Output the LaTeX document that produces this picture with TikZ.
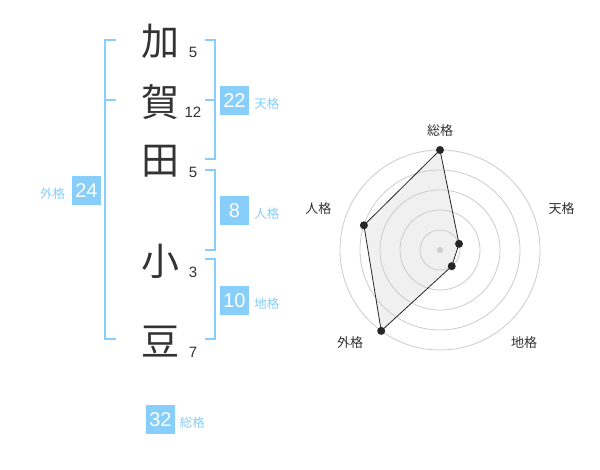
\documentclass[tikz,border=0pt]{standalone}
\usepackage{fontspec}
\setmainfont{Liberation Sans}
\newfontfamily\jpfont{Noto Sans CJK JP}
\usetikzlibrary{positioning}
\definecolor{skyline}{HTML}{87CEFA}
\definecolor{inkgray}{HTML}{333333}
\tikzstyle{kanji} = [text=inkgray, font=\jpfont\fontsize{38}{38}\selectfont, inner sep=0pt]
\tikzstyle{strokes} = [text=inkgray, font=\fontsize{15}{15}\selectfont, inner sep=0pt]
\tikzstyle{kakubox} = [fill=skyline, text=white, minimum width=29pt, minimum height=29pt,
    inner sep=0pt, font=\fontsize{20}{20}\selectfont]
\tikzstyle{kakulabel} = [text=skyline, font=\jpfont\fontsize{12.5}{12.5}\selectfont, inner sep=0pt]
\tikzstyle{bracket} = [draw=skyline, line width=2pt]
\tikzstyle{ring} = [draw=black!20, line width=0.8pt]
\tikzstyle{axislabel} = [text=inkgray, font=\jpfont\fontsize{13}{13}\selectfont, inner sep=0pt]
\tikzstyle{vertex} = [circle, fill=black!85, inner sep=0pt, minimum size=8pt]

\begin{document}
\begin{tikzpicture}[x=1pt, y=-1pt]
                \fill[white] (0,0) rectangle (600,470);
                \useasboundingbox (0,0) rectangle (600,470);
                % name column
                \node[kanji] (ka)  at (160,41.7)  {加};
                \node[kanji] (ga)  at (160,101.7) {賀};
                \node[kanji] (ta)  at (160,161.7) {田};
                \node[kanji] (sho) at (160,261.5) {小};
                \node[kanji] (mame) at (160,341.5) {豆};
                \node[strokes] (n1) at ([shift={(33,11)}]ka.center)   {5};
                \node[strokes] (n2) at ([shift={(33,11)}]ga.center)   {12};
                \node[strokes] (n3) at ([shift={(33,11)}]ta.center)   {5};
                \node[strokes] (n4) at ([shift={(33,11)}]sho.center)  {3};
                \node[strokes] (n5) at ([shift={(33,11)}]mame.center) {7};
                % brackets
                \draw[bracket] (116,40) -- (105,40) -- (105,339.3) -- (116,339.3);
                \draw[bracket] (105,100) -- (116,100);
                \draw[bracket] (205,40) -- (215,40) -- (215,159.3) -- (205,159.3);
                \draw[bracket] (205,100) -- (215,100);
                \draw[bracket] (205,170) -- (215,170) -- (215,250) -- (205,250);
                \draw[bracket] (205,259.3) -- (215,259.3) -- (215,339.3) -- (205,339.3);
                % scores
                \node[kakubox] (ten22) at (234.5,100.5) {22};
                \node[kakulabel, right=5pt of ten22, yshift=-3.5pt] (tenlbl) {天格};
                \node[kakubox] (jin8) at (234.5,210.5) {8};
                \node[kakulabel, right=5pt of jin8, yshift=-3.5pt] (jinlbl) {人格};
                \node[kakubox] (chi10) at (234.5,300.5) {10};
                \node[kakulabel, right=5pt of chi10, yshift=-3.5pt] (chilbl) {地格};
                \node[kakubox] (gai24) at (86.5,190.5) {24};
                \node[kakulabel, left=6.5pt of gai24, yshift=-3.5pt] (gailbl) {外格};
                \node[kakubox] (sou32) at (160.5,419.5) {32};
                \node[kakulabel, right=4.5pt of sou32, yshift=-3.2pt] (soulbl) {総格};
                % radar chart
                \begin{scope}[shift={(440,250)}]
                    \coordinate (sou) at (-90:100);
                    \coordinate (ten) at (-18:20);
                    \coordinate (chi) at (54:20);
                    \coordinate (gai) at (126:100);
                    \coordinate (jin) at (198:80);
                    \fill[black!6] (sou) -- (ten) -- (chi) -- (gai) -- (jin) -- cycle;
                    \foreach \r in {20,40,...,100}
                        \draw[ring] (0,0) circle (\r pt);
                    \draw[black!85, line width=0.8pt] (sou) -- (ten) -- (chi) -- (gai) -- (jin) -- cycle;
                    \foreach \p in {sou,ten,chi,gai,jin}
                        \node[vertex] (dot-\p) at (\p) {};
                    \node[circle, fill=black!20, inner sep=0pt, minimum size=6pt] (hub) at (0,0) {};
                    \node[axislabel] (axsou) at (0,-119.3)     {総格};
                    \node[axislabel] (axten) at (121.7,-41.3)  {天格};
                    \node[axislabel] (axchi) at (84,92.3)      {地格};
                    \node[axislabel] (axgai) at (-90,92.3)     {外格};
                    \node[axislabel] (axjin) at (-121.7,-41.7) {人格};
                \end{scope}
            \end{tikzpicture}
\end{document}
